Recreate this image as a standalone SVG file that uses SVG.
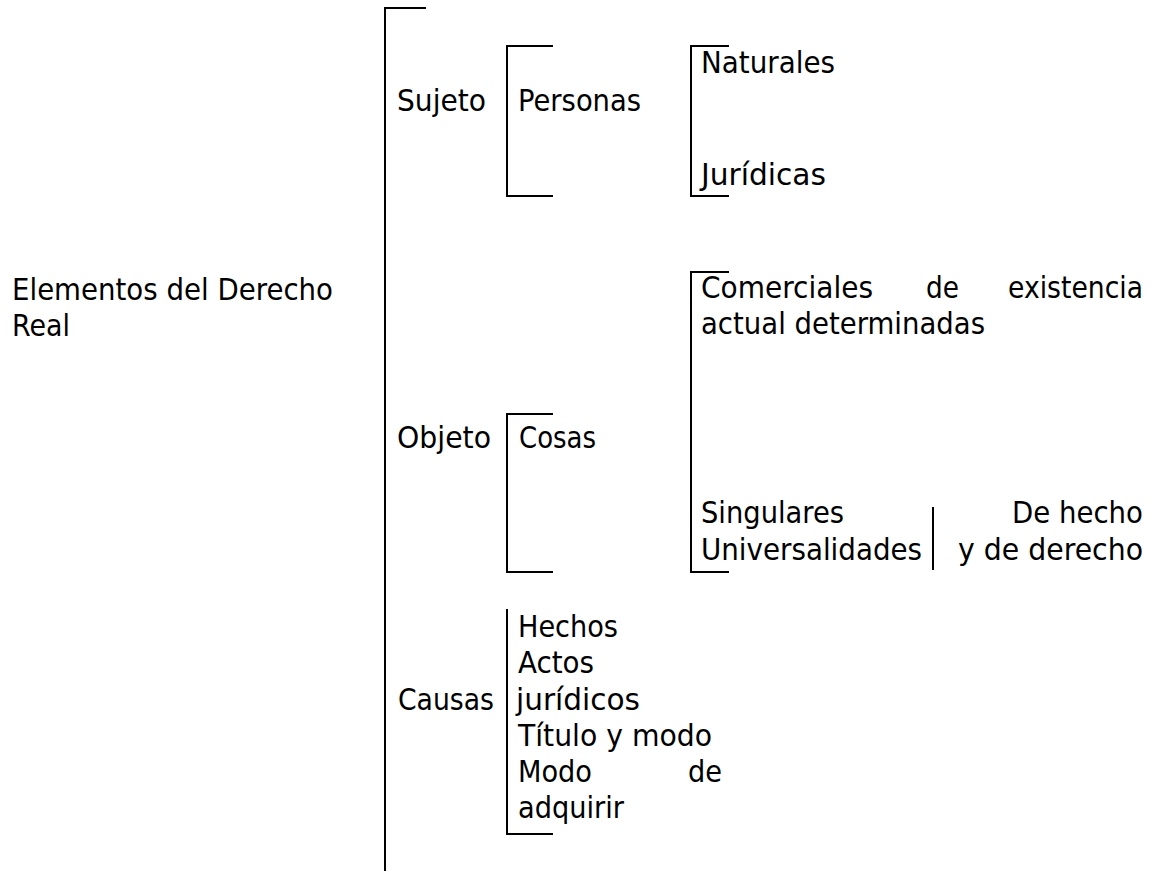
<svg xmlns="http://www.w3.org/2000/svg" width="1161" height="871" viewBox="0 0 1161 871">
<style>
.t{font-family:"DejaVu Sans","Liberation Sans",sans-serif;font-size:30.5px;fill:#000}
.b{fill:none;stroke:#000;stroke-width:2}
</style>
<rect width="1161" height="871" fill="#fff"/>
<g id="connectors">
<path class="b" d="M426,8 H385 V871"/>
<path class="b" d="M553,46 H507 V196 H553"/>
<path class="b" d="M729,46 H691 V196 H729"/>
<path class="b" d="M729,272 H691 V572 H729"/>
<path class="b" d="M553,414 H507 V572 H553"/>
<path class="b" d="M507,609 V834 H553"/>
<path class="b" d="M933,507 V570"/>
</g>
<g id="root"><text class="t" x="12" y="300" textLength="321" lengthAdjust="spacingAndGlyphs">Elementos del Derecho</text><text class="t" x="12" y="336" textLength="58" lengthAdjust="spacingAndGlyphs">Real</text></g>
<g id="sujeto"><text class="t" x="397" y="111" textLength="89" lengthAdjust="spacingAndGlyphs">Sujeto</text></g>
<g id="personas"><text class="t" x="518" y="111" textLength="123" lengthAdjust="spacingAndGlyphs">Personas</text></g>
<g id="naturales"><text class="t" x="701" y="73" textLength="134" lengthAdjust="spacingAndGlyphs">Naturales</text></g>
<g id="juridicas"><text class="t" x="701" y="185" textLength="125" lengthAdjust="spacingAndGlyphs">Jurídicas</text></g>
<g id="comerciales"><text class="t" x="701" y="298" textLength="172" lengthAdjust="spacingAndGlyphs">Comerciales</text><text class="t" x="926" y="298" textLength="33" lengthAdjust="spacingAndGlyphs">de</text><text class="t" x="1008" y="298" textLength="135" lengthAdjust="spacingAndGlyphs">existencia</text><text class="t" x="701" y="334" textLength="284" lengthAdjust="spacingAndGlyphs">actual determinadas</text></g>
<g id="objeto"><text class="t" x="397" y="448" textLength="94" lengthAdjust="spacingAndGlyphs">Objeto</text></g>
<g id="cosas"><text class="t" x="519" y="448" textLength="77" lengthAdjust="spacingAndGlyphs">Cosas</text></g>
<g id="singulares"><text class="t" x="701" y="523" textLength="143" lengthAdjust="spacingAndGlyphs">Singulares</text><text class="t" x="701" y="560" textLength="221" lengthAdjust="spacingAndGlyphs">Universalidades</text></g>
<g id="hecho"><text class="t" x="1012" y="523" textLength="131" lengthAdjust="spacingAndGlyphs">De hecho</text><text class="t" x="958" y="560" textLength="185" lengthAdjust="spacingAndGlyphs">y de derecho</text></g>
<g id="causas"><text class="t" x="398" y="710" textLength="96" lengthAdjust="spacingAndGlyphs">Causas</text></g>
<g id="hechos"><text class="t" x="518" y="637" textLength="100" lengthAdjust="spacingAndGlyphs">Hechos</text><text class="t" x="518" y="673" textLength="76" lengthAdjust="spacingAndGlyphs">Actos</text><text class="t" x="516" y="710" textLength="124" lengthAdjust="spacingAndGlyphs">jurídicos</text><text class="t" x="518" y="746" textLength="194" lengthAdjust="spacingAndGlyphs">Título y modo</text><text class="t" x="518" y="782" textLength="74" lengthAdjust="spacingAndGlyphs">Modo</text><text class="t" x="688" y="782" textLength="34" lengthAdjust="spacingAndGlyphs">de</text><text class="t" x="518" y="818" textLength="106" lengthAdjust="spacingAndGlyphs">adquirir</text></g>
</svg>
